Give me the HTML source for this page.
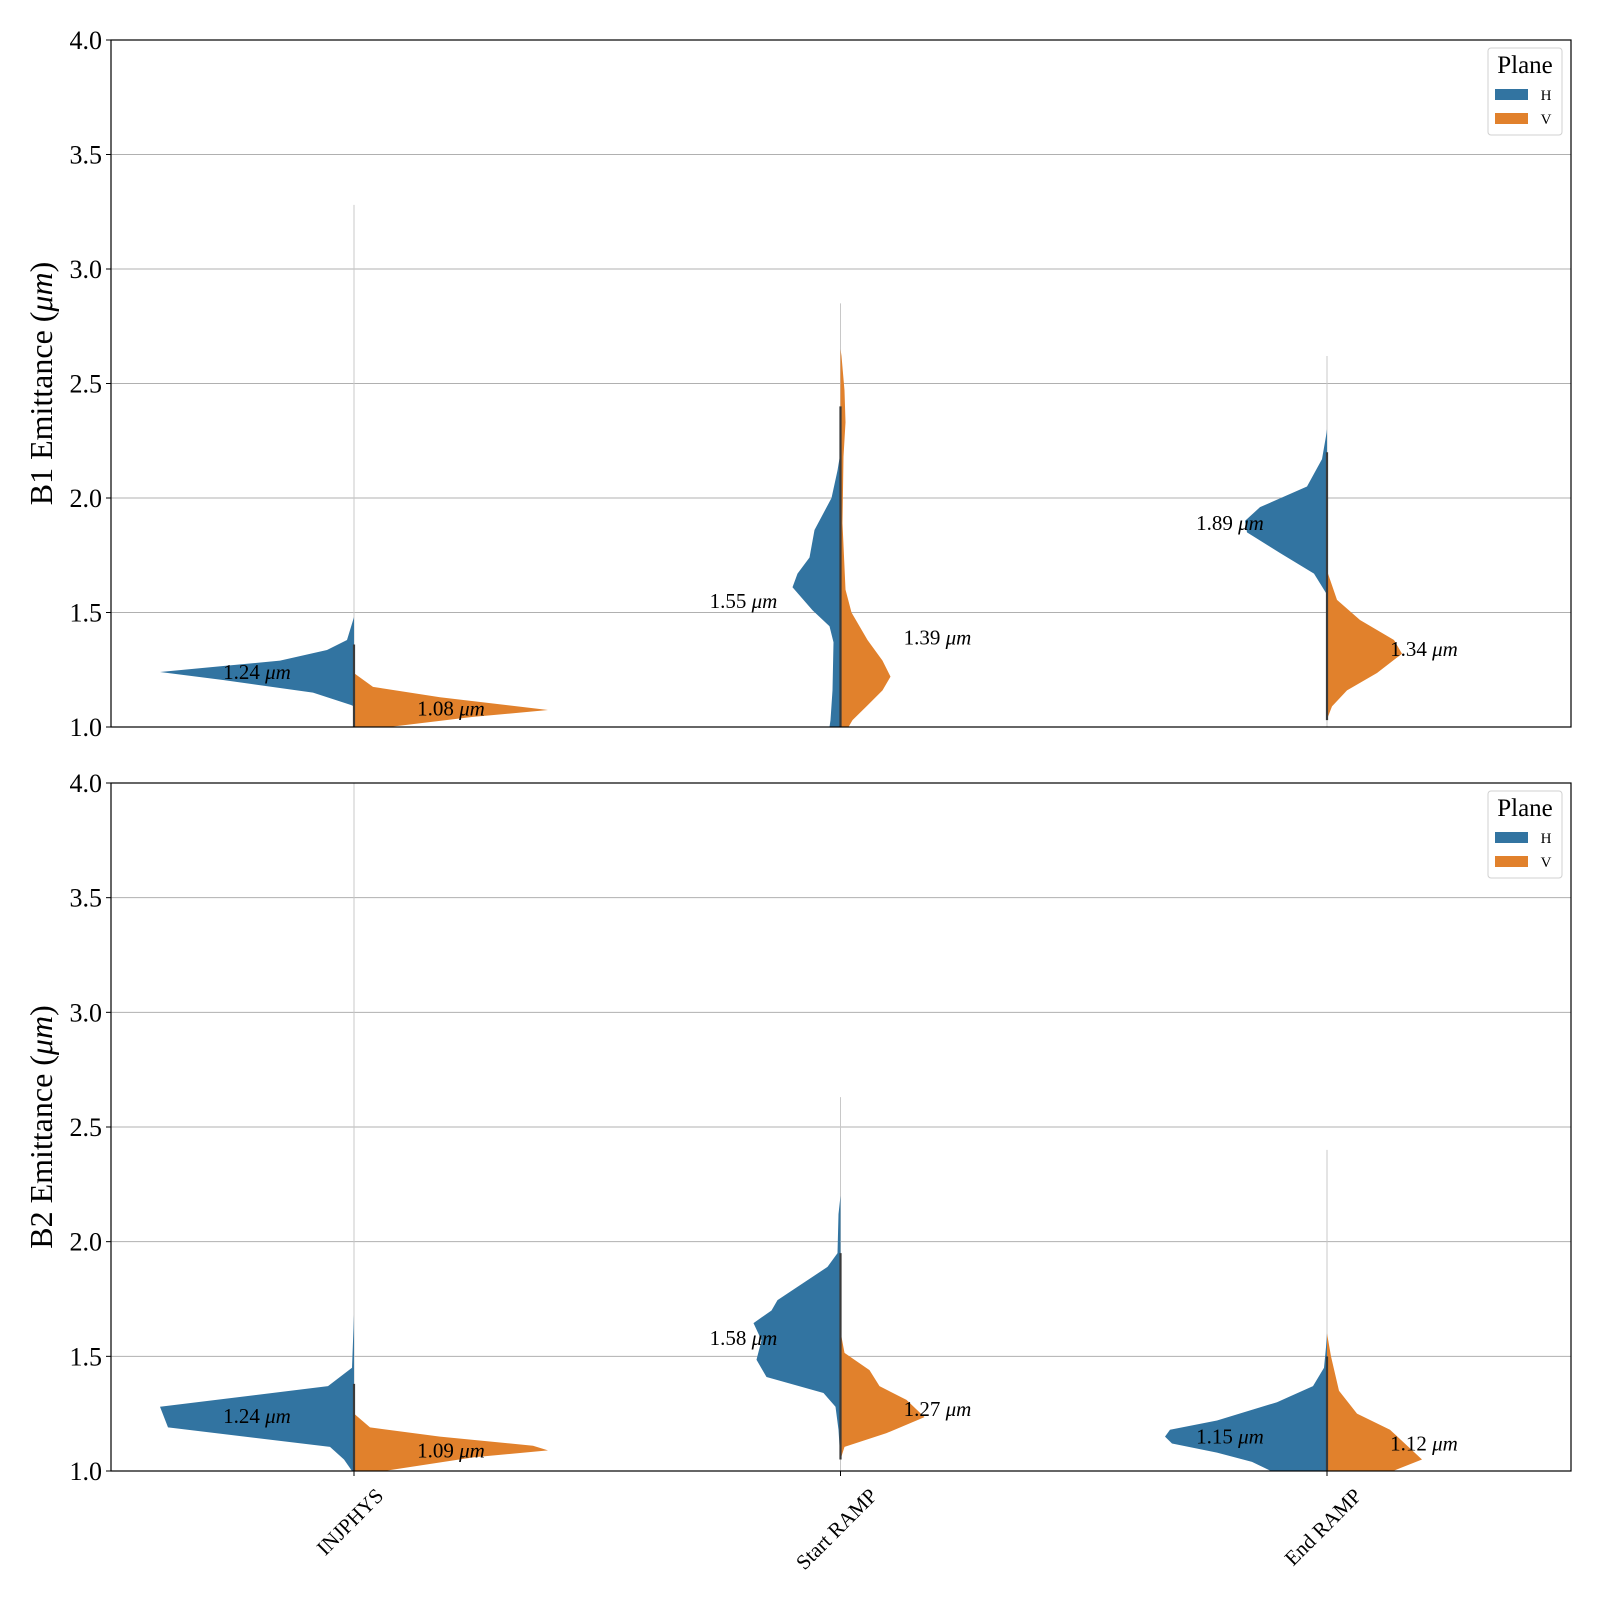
<!DOCTYPE html>
<html><head><meta charset="utf-8"><style>
html,body{margin:0;padding:0;background:#fff}
svg{display:block}
text{font-family:"Liberation Serif","DejaVu Serif",serif;fill:#000}
</style></head><body>
<svg id="chart" width="1600" height="1600" viewBox="0 0 1600 1600" xmlns="http://www.w3.org/2000/svg">
<g id="g"></g>
</svg>
<script>
// ---- data ----
const categories = ["INJPHYS", "Start RAMP", "End RAMP"];
const yTicks = [1.0, 1.5, 2.0, 2.5, 3.0, 3.5, 4.0];
const yTickLabels = ["1.0", "1.5", "2.0", "2.5", "3.0", "3.5", "4.0"];
const panelTitles = ["B1 Emittance (", "B2 Emittance ("];

// B1 medians
const b1MedH = [1.24, 1.55, 1.89];
const b1MedV = [1.08, 1.39, 1.34];
// B2 medians
const b2MedH = [1.24, 1.58, 1.15];
const b2MedV = [1.09, 1.27, 1.12];

// whisker max (thin line) and inner stick range
const b1Max = [3.28, 2.85, 2.62];
const b2Max = [4.0, 2.63, 2.40];
const b1StickLo = [1.0, 1.0, 1.03];
const b1StickHi = [1.36, 2.4, 2.2];
const b2StickLo = [1.0, 1.05, 1.0];
const b2StickHi = [1.38, 1.95, 1.5];

// density profiles (value, density) per half
const b1InjH_v = [1.48, 1.38, 1.336, 1.29, 1.24, 1.205, 1.15, 1.096, 1.09];
const b1InjH_d = [0.0, 0.07, 0.27, 0.74, 1.94, 1.31, 0.41, 0.03, 0.0];
const b1InjV_v = [1.235, 1.175, 1.13, 1.074, 1.044, 1.0];
const b1InjV_d = [0.0, 0.19, 0.86, 1.94, 1.19, 0.35];
const b1StartH_v = [2.2, 2.12, 2.0, 1.86, 1.74, 1.67, 1.61, 1.51, 1.44, 1.37, 1.16, 1.03, 1.0];
const b1StartH_d = [0.0, 0.03, 0.09, 0.26, 0.31, 0.43, 0.48, 0.28, 0.11, 0.07, 0.08, 0.10, 0.11];
const b1StartV_v = [2.65, 2.62, 2.47, 2.33, 2.18, 1.89, 1.6, 1.5, 1.38, 1.29, 1.22, 1.16, 1.09, 1.03, 1.0];
const b1StartV_d = [0.0, 0.01, 0.04, 0.05, 0.03, 0.02, 0.05, 0.11, 0.27, 0.42, 0.50, 0.42, 0.26, 0.12, 0.08];
const b1EndH_v = [2.3, 2.27, 2.17, 2.05, 1.96, 1.9, 1.85, 1.76, 1.67, 1.585];
const b1EndH_d = [0.0, 0.01, 0.05, 0.20, 0.67, 0.82, 0.80, 0.47, 0.13, 0.01];
const b1EndV_v = [1.67, 1.555, 1.467, 1.38, 1.32, 1.236, 1.16, 1.09, 1.045, 1.03];
const b1EndV_d = [0.01, 0.10, 0.33, 0.67, 0.75, 0.50, 0.20, 0.05, 0.01, 0.0];

const b2InjH_v = [1.68, 1.45, 1.37, 1.28, 1.19, 1.105, 1.05, 1.0];
const b2InjH_d = [0.0, 0.02, 0.26, 1.94, 1.86, 0.24, 0.10, 0.02];
const b2InjV_v = [1.25, 1.19, 1.15, 1.11, 1.09, 1.06, 1.0];
const b2InjV_d = [0.0, 0.16, 0.86, 1.79, 1.94, 1.20, 0.30];
const b2StartH_v = [2.2, 2.12, 1.95, 1.89, 1.8, 1.745, 1.70, 1.645, 1.57, 1.485, 1.41, 1.34, 1.28, 1.18, 1.11, 1.05];
const b2StartH_d = [0.0, 0.02, 0.03, 0.13, 0.44, 0.63, 0.69, 0.87, 0.79, 0.84, 0.74, 0.17, 0.05, 0.02, 0.01, 0.0];
const b2StartV_v = [1.585, 1.515, 1.44, 1.37, 1.31, 1.235, 1.165, 1.105, 1.05];
const b2StartV_d = [0.01, 0.04, 0.29, 0.39, 0.66, 0.84, 0.46, 0.04, 0.0];
const b2EndH_v = [1.6, 1.54, 1.45, 1.37, 1.30, 1.22, 1.18, 1.15, 1.12, 1.08, 1.04, 1.0];
const b2EndH_d = [0.0, 0.01, 0.03, 0.14, 0.50, 1.10, 1.57, 1.62, 1.55, 1.10, 0.75, 0.56];
const b2EndV_v = [1.6, 1.50, 1.35, 1.25, 1.18, 1.05, 1.0];
const b2EndV_d = [0.0, 0.04, 0.12, 0.30, 0.63, 0.95, 0.66];

// ---- layout ----
const NS = "http://www.w3.org/2000/svg";
const X0 = 111, X1 = 1571;
const panels = [
  {top: 40, bottom: 727, title: panelTitles[0], medH: b1MedH, medV: b1MedV, max: b1Max, lo: b1StickLo, hi: b1StickHi,
   halves: [[b1InjH_v,b1InjH_d,b1InjV_v,b1InjV_d],[b1StartH_v,b1StartH_d,b1StartV_v,b1StartV_d],[b1EndH_v,b1EndH_d,b1EndV_v,b1EndV_d]]},
  {top: 783, bottom: 1471, title: panelTitles[1], medH: b2MedH, medV: b2MedV, max: b2Max, lo: b2StickLo, hi: b2StickHi,
   halves: [[b2InjH_v,b2InjH_d,b2InjV_v,b2InjV_d],[b2StartH_v,b2StartH_d,b2StartV_v,b2StartV_d],[b2EndH_v,b2EndH_d,b2EndV_v,b2EndV_d]]}
];
const catX = i => 354 + i * 486.5;
const DSCALE = 100;
const g = document.getElementById('g');
function mk(tag, attrs, parent) {
  const e = document.createElementNS(NS, tag);
  for (const k in attrs) e.setAttribute(k, attrs[k]);
  (parent || g).appendChild(e);
  return e;
}

panels.forEach((p, pi) => {
  const yS = v => p.bottom - (v - 1.0) / 3.0 * (p.bottom - p.top);
  const pg = mk('g', {});
  
  
  yTicks.forEach((t, ti) => {
    const y = yS(t);
    const gl = mk('line', {x1: X0, x2: X1, y1: y, y2: y, stroke: '#b0b0b0', 'stroke-width': 1}, pg);
    
    
    mk('line', {x1: X0 - 5, x2: X0, y1: y, y2: y, stroke: '#000', 'stroke-width': 1}, pg);
    const tl = mk('text', {x: X0 - 9, y: y + 9, 'text-anchor': 'end', 'font-size': 26}, pg);
    tl.textContent = yTickLabels[ti];
    
    
  });
  p.halves.forEach((h, ci) => {
    const cx = catX(ci);
    const wl = mk('line', {x1: cx, x2: cx, y1: yS(1.0), y2: yS(p.max[ci]), stroke: '#c8c8c8', 'stroke-width': 1}, pg);
    
    
    [[h[0], h[1], -1, '#3274a1', 'H'], [h[2], h[3], 1, '#e1812c', 'V']].forEach(([vs, ds, dir, col, nm]) => {
      let d = 'M' + cx + ',' + yS(vs[0]);
      for (let k = 0; k < vs.length; k++) d += ' L' + (cx + dir * ds[k] * DSCALE) + ',' + yS(vs[k]);
      d += ' L' + cx + ',' + yS(vs[vs.length - 1]) + ' Z';
      const path = mk('path', {d: d, fill: col, stroke: 'none'}, pg);
      
      
    });
    const st = mk('line', {x1: cx, x2: cx, y1: yS(p.lo[ci]), y2: yS(p.hi[ci]), stroke: '#3a3a3a', 'stroke-width': 2.2}, pg);
    
    
    [[p.medH[ci], -97], [p.medV[ci], 97]].forEach(([m, off]) => {
      const t = mk('text', {x: cx + off, y: yS(m) + 7, 'text-anchor': 'middle', 'font-size': 21}, pg);
      t.innerHTML = m.toFixed(2) + ' <tspan font-style="italic">μm</tspan>';
      
      
    });
  });
  const fr = mk('rect', {x: X0, y: p.top, width: X1 - X0, height: p.bottom - p.top, fill: 'none', stroke: '#000', 'stroke-width': 1.2}, pg);
  
  
  const yc = (p.top + p.bottom) / 2;
  const yt = mk('text', {x: 52, y: yc, 'text-anchor': 'middle', 'font-size': 32, transform: 'rotate(-90 52 ' + yc + ')'}, pg);
  yt.innerHTML = p.title + '<tspan font-style="italic">μm</tspan>)';
  
  
  const lg = mk('g', {transform: 'translate(0,' + (p.top - 40) + ')'}, pg);
  
  
  mk('rect', {x: 1488, y: 48, width: 74, height: 87, rx: 3, fill: '#fff', stroke: '#d0d0d0', 'stroke-width': 1}, lg);
  const ttl = mk('text', {x: 1525, y: 73, 'text-anchor': 'middle', 'font-size': 25}, lg);
  ttl.textContent = 'Plane';
  
  
  [['H', '#3274a1', 89], ['V', '#e1812c', 113]].forEach(([lab, col, yy]) => {
    const r = mk('rect', {x: 1495, y: yy, width: 33, height: 11, fill: col}, lg);
    
    
    const t = mk('text', {x: 1546, y: yy + 11, 'text-anchor': 'middle', 'font-size': 15}, lg);
    t.textContent = lab;
    
    
  });
});

categories.forEach((c, ci) => {
  const cx = catX(ci);
  mk('line', {x1: cx, x2: cx, y1: 1471, y2: 1476, stroke: '#000', 'stroke-width': 1});
  const t = mk('text', {x: cx, y: 1500, 'text-anchor': 'middle', 'dominant-baseline': 'central', 'font-size': 21});
  t.textContent = c;
  
  
  const L = t.getComputedTextLength();
  const cy = 1484 + L * 0.354 + 8;
  t.setAttribute('y', cy);
  t.setAttribute('x', cx - 4);
  t.setAttribute('transform', 'rotate(-45 ' + (cx - 4) + ' ' + cy + ')');
});
</script>
</body></html>
